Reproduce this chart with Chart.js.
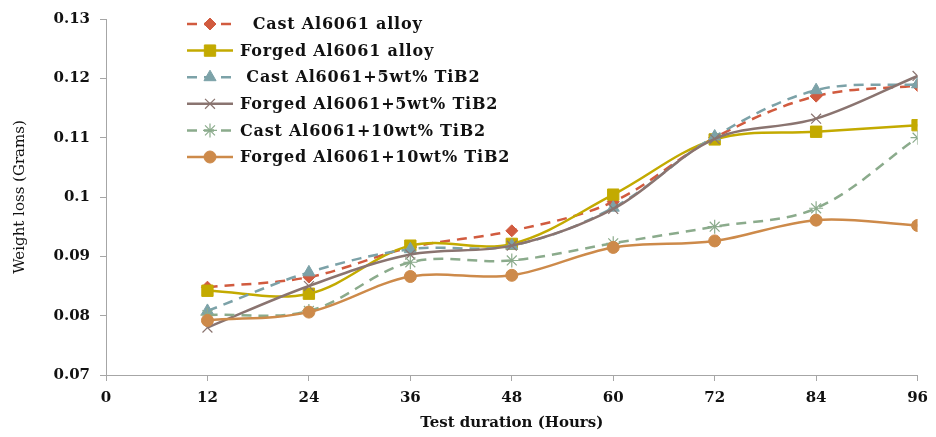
<!DOCTYPE html>
<html lang="en">

<head>
    <meta charset="utf-8">
    <title>Weight loss chart</title>
    <script src="https://cdn.jsdelivr.net/npm/chart.js@4.4.0/dist/chart.umd.min.js"></script>
    <style>
        body { margin: 0; background: #fff; }
        #wrap { width: 936px; height: 437px; }
    </style>
</head>

<body>
    <div id="wrap">
        <canvas id="myChart" width="936" height="437"></canvas>
    </div>
    <script>
        // test duration in hours
        const hours = [12, 24, 36, 48, 60, 72, 84, 96];

        // weight loss (grams)
        const castAlloy = [0.0848, 0.0865, 0.0915, 0.0943, 0.0992, 0.1100, 0.1170, 0.1188];
        const forgedAlloy = [0.0842, 0.0837, 0.0918, 0.0921, 0.1004, 0.1097, 0.1110, 0.1121];
        const cast5 = [0.0808, 0.0873, 0.0912, 0.0918, 0.0982, 0.1102, 0.1180, 0.1190];
        const forged5 = [0.0780, 0.0850, 0.0903, 0.0918, 0.0980, 0.1098, 0.1132, 0.1204];
        const cast10 = [0.0801, 0.0808, 0.0890, 0.0893, 0.0922, 0.0950, 0.0981, 0.1100];
        const forged10 = [0.0792, 0.0806, 0.0866, 0.0868, 0.0915, 0.0926, 0.0961, 0.0952];

        const seriesLabels = [
            "  Cast Al6061 alloy",
            "Forged Al6061 alloy",
            " Cast Al6061+5wt% TiB2",
            "Forged Al6061+5wt% TiB2",
            "Cast Al6061+10wt% TiB2",
            "Forged Al6061+10wt% TiB2"
        ];

        const xTicks = [0, 12, 24, 36, 48, 60, 72, 84, 96];
        const yTicks = [0.07, 0.08, 0.09, 0.1, 0.11, 0.12, 0.13];

        const toPoints = (vals) => hours.map((h, i) => ({ x: h, y: vals[i] }));

        const makeSet = (label, vals, color, dashed, style, radius, idx) => ({
            label: label,
            data: toPoints(vals),
            borderColor: color,
            backgroundColor: color,
            borderWidth: 2.5,
            borderDash: dashed ? [10, 7] : [],
            tension: 0.35,
            pointStyle: style,
            pointRadius: radius,
            pointBorderWidth: (style === 'crossRot' || style === 'star') ? 1.2 : 1,
            pointBackgroundColor: color,
            pointBorderColor: color,
            order: 6 - idx,
            fill: false
        });

        // legend drawn inside the plot, one row per series
        const boxLegend = {
            id: 'boxLegend',
            afterDraw(chart) {
                const ctx = chart.ctx;
                ctx.save();
                ctx.font = 'bold 16px "DejaVu Serif"';
                ctx.letterSpacing = '0.8px';
                ctx.textBaseline = 'middle';
                chart.data.datasets.forEach((ds, i) => {
                    const y = 24 + i * 26.6;
                    ctx.strokeStyle = ds.borderColor;
                    ctx.fillStyle = ds.backgroundColor;
                    ctx.lineWidth = ds.borderWidth;
                    ctx.setLineDash(ds.borderDash);
                    ctx.beginPath();
                    ctx.moveTo(187, y);
                    ctx.lineTo(233, y);
                    ctx.stroke();
                    ctx.setLineDash([]);
                    ctx.lineWidth = ds.pointBorderWidth;
                    Chart.helpers.drawPoint(ctx, {
                        pointStyle: ds.pointStyle,
                        radius: ds.pointRadius,
                        borderWidth: ds.pointBorderWidth,
                        rotation: 0
                    }, 210, y);
                    ctx.fillStyle = '#111';
                    ctx.fillText(ds.label, 240, y + 1);
                });
                ctx.restore();
            }
        };

        const myChart = new Chart(document.getElementById('myChart'), {
            type: 'line',
            data: {
                datasets: [
                    makeSet(seriesLabels[0], castAlloy, '#d15b3f', true, 'rectRot', 6, 0),
                    makeSet(seriesLabels[1], forgedAlloy, '#c3aa00', false, 'rect', 8, 1),
                    makeSet(seriesLabels[2], cast5, '#7ca2a8', true, 'triangle', 7, 2),
                    makeSet(seriesLabels[3], forged5, '#8a7470', false, 'crossRot', 7, 3),
                    makeSet(seriesLabels[4], cast10, '#8bab8c', true, 'star', 7, 4),
                    makeSet(seriesLabels[5], forged10, '#cd8a4a', false, 'circle', 6, 5)
                ]
            },
            options: {
                responsive: false,
                animation: false,
                layout: { padding: { top: 15, right: 14, left: 0, bottom: 0 } },
                plugins: {
                    legend: { display: false },
                    tooltip: { enabled: false }
                },
                scales: {
                    x: {
                        type: 'linear',
                        min: xTicks[0],
                        max: xTicks[xTicks.length - 1],
                        afterBuildTicks: (scale) => { scale.ticks = xTicks.map(v => ({ value: v })); },
                        afterFit: (scale) => { scale.height = 62; },
                        grid: { drawOnChartArea: false, tickLength: 6, color: '#a6a6a6' },
                        border: { color: '#a6a6a6', width: 1 },
                        ticks: {
                            padding: 8,
                            color: '#111',
                            font: { family: 'DejaVu Serif', weight: 'bold', size: 15 }
                        },
                        title: {
                            display: true,
                            text: 'Test duration (Hours)',
                            color: '#111',
                            padding: { top: 0, bottom: 5 },
                            font: { family: 'DejaVu Serif', weight: 'bold', size: 15 }
                        }
                    },
                    y: {
                        min: yTicks[0],
                        max: yTicks[yTicks.length - 1],
                        afterBuildTicks: (scale) => { scale.ticks = yTicks.map(v => ({ value: v })); },
                        afterFit: (scale) => { scale.width = 106; },
                        grid: { drawOnChartArea: false, tickLength: 6, color: '#a6a6a6' },
                        border: { color: '#a6a6a6', width: 1 },
                        ticks: {
                            padding: 10,
                            color: '#111',
                            font: { family: 'DejaVu Serif', weight: 'bold', size: 15 },
                            callback: (v) => String(Number(v.toFixed(2)))
                        },
                        title: {
                            display: true,
                            text: 'Weight loss (Grams)',
                            color: '#111',
                            padding: { top: 11, bottom: 0 },
                            font: { family: 'DejaVu Serif', size: 15 }
                        }
                    }
                }
            },
            plugins: [boxLegend]
        });
    </script>
</body>

</html>
